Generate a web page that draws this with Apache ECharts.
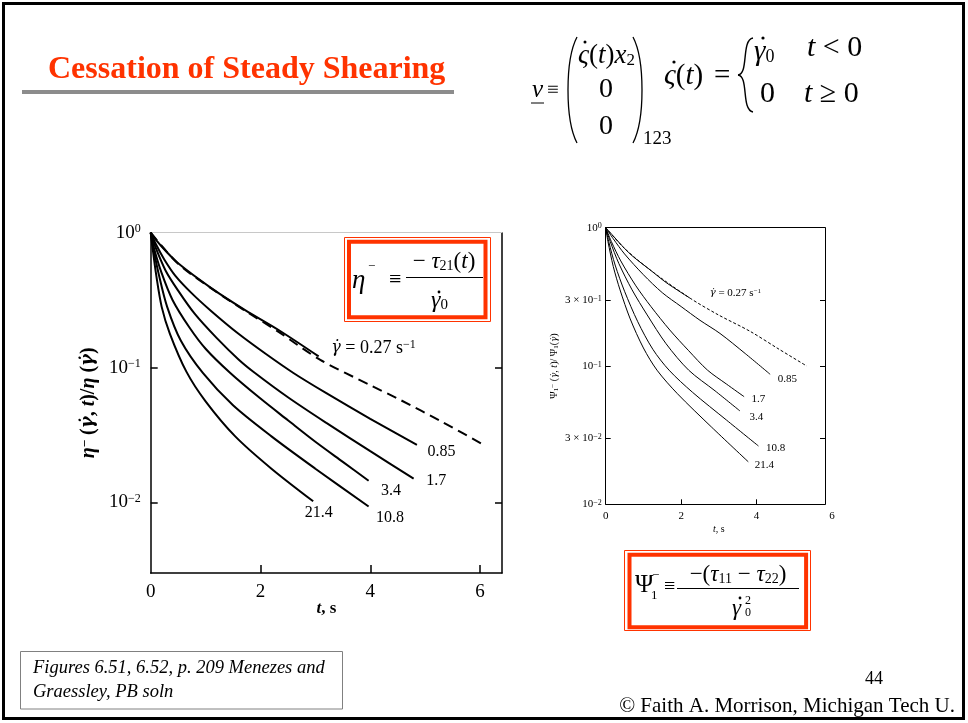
<!DOCTYPE html>
<html><head><meta charset="utf-8">
<script src="https://cdn.jsdelivr.net/npm/echarts@6/dist/echarts.min.js"></script>
<style>html,body{margin:0;padding:0;background:#fff}#c{width:968px;height:723px}</style>
</head><body><div id="c"></div>
<script>
// ---------- DATA : left figure, eta^- (t) / eta ----------
const etaT_027 = [0,0.1,0.25,0.5,1.11,1.72,2.33,3.06];
const etaV_027 = [1,0.881,0.750,0.593,0.387,0.267,0.190,0.121];
const etaT_027lin = [0,0.5,1.11,1.72,2.33,3.09,4.0,4.55,5.3,6.09];
const etaV_027lin = [1,0.589,0.385,0.264,0.184,0.114,0.0741,0.0575,0.0398,0.0264];
const etaT_085 = [0,0.1,0.25,0.45,0.75,1.1,1.6,2.1,2.6,3.2,4.0,4.85];
const etaV_085 = [1,0.813,0.631,0.479,0.355,0.263,0.178,0.126,0.0912,0.0646,0.0417,0.0267];
const etaT_17 = [0,0.08,0.27,0.5,0.8,1.2,1.6,1.9,2.5,3.2,4.0,4.79];
const etaV_17 = [1,0.794,0.525,0.372,0.251,0.166,0.115,0.0912,0.0603,0.0389,0.0240,0.0150];
const etaT_34 = [0,0.05,0.2,0.4,0.7,1.0,1.45,2.0,2.5,3.0,3.5,3.97];
const etaV_34 = [1,0.794,0.501,0.316,0.200,0.138,0.0912,0.0589,0.0407,0.0282,0.0200,0.0145];
const etaT_108 = [0,0.04,0.15,0.3,0.55,0.95,1.5,2.2,3.0,3.97];
const etaV_108 = [1,0.794,0.486,0.282,0.158,0.0912,0.0525,0.0309,0.0178,0.00933];
const etaT_214 = [0,0.03,0.1,0.2,0.35,0.65,1.0,1.54,2.2,2.96];
const etaV_214 = [1,0.794,0.486,0.282,0.178,0.0933,0.0562,0.0309,0.0178,0.0102];

// ---------- DATA : right figure, Psi1^- (t) / Psi1 ----------
const psiT_027 = [0,0.2,0.5,0.73,1.2,1.62,2.24];
const psiV_027 = [1,0.871,0.708,0.617,0.490,0.398,0.309];
const psiT_027lin = [0,0.5,1.2,2.24,2.99,3.83,4.6,5.33];
const psiV_027lin = [1,0.708,0.490,0.309,0.234,0.178,0.132,0.100];
const psiT_085 = [0,0.2,0.5,1.0,1.5,2.0,2.5,3.03,3.7,4.36];
const psiV_085 = [1,0.832,0.646,0.457,0.339,0.269,0.214,0.172,0.123,0.0871];
const psiT_17 = [0,0.15,0.4,0.8,1.2,1.7,2.2,2.7,3.2,3.67];
const psiV_17 = [1,0.794,0.575,0.380,0.269,0.182,0.129,0.0933,0.0741,0.0600];
const psiT_34 = [0,0.12,0.35,0.7,1.1,1.6,2.2,2.9,3.56];
const psiV_34 = [1,0.794,0.550,0.355,0.234,0.145,0.0933,0.0661,0.0473];
const psiT_108 = [0,0.08,0.25,0.5,0.85,1.25,1.68,2.3,3.2,4.05];
const psiV_108 = [1,0.794,0.537,0.347,0.209,0.132,0.0933,0.0646,0.0407,0.0264];
const psiT_214 = [0,0.06,0.2,0.38,0.65,1.0,1.36,1.9,2.8,3.78];
const psiV_214 = [1,0.794,0.525,0.355,0.219,0.135,0.0933,0.0631,0.0363,0.0203];

// ---------- labels / ticks ----------
const rateLow = '{g|γ\u0307} = 0.27 s{s|−1}';
const rateLabels = ['0.85','1.7','3.4','10.8','21.4'];
const etaXTicks = [0,2,4,6];
const etaYTicks = [1,0.1,0.01];
const etaYTickText = ['10^0','10^−1','10^−2'];
const psiXTicks = [0,2,4,6];
const psiYTicks = [1,0.3,0.1,0.03,0.01];
const psiYTickText = ['10^0','3 × 10^−1','10^−1','3 × 10^−2','10^−2'];

const SERIF = "'Liberation Serif','Times New Roman',serif";
const DJ = "'DejaVu Serif','Liberation Serif',serif";

function zip(ts, vs){ return ts.map((t,i)=>[t, vs[i]]); }
function curve(gi, ts, vs, width, dash){
  return {type:'line', xAxisIndex:gi*2, yAxisIndex:gi*2, data:zip(ts,vs), symbol:'none',
    smooth:0.3, silent:true, z:3,
    lineStyle:{color:'#000', width:width, type: dash || 'solid'}};
}
function tag(gi, ts, vs, text, off, fs){
  const n = ts.length-1;
  const ss = Math.round(fs*0.65), k = Math.round(fs*0.55);
  return {type:'scatter', xAxisIndex:gi*2, yAxisIndex:gi*2, data:[[ts[n], vs[n]]], symbolSize:1,
    itemStyle:{color:'rgba(0,0,0,0)'}, silent:true, z:4,
    label:{show:true, formatter:text, position:off, align:'left', verticalAlign:'middle',
      fontFamily:SERIF, fontSize:fs, lineHeight:fs, color:'#000', textBorderWidth:0, opacity:1,
      rich:{g:{fontStyle:'italic', fontFamily:DJ, fontSize:Math.round(fs*0.9), lineHeight:fs, color:'#000'},
            s:{fontFamily:SERIF, fontSize:ss, lineHeight:ss, padding:[0,0,k,0], verticalAlign:'top', color:'#000'}}}};
}
function tickFmt(ticks, texts){
  return function(v){
    const i = ticks.findIndex(t=>Math.abs(Math.log10(t)-Math.log10(v))<1e-6);
    if(i<0) return '';
    const p = texts[i].split('^');
    return '{b|'+p[0]+'}{s|'+p[1]+'}';
  };
}
function logRich(fb, fs, k){
  return {b:{fontFamily:SERIF, fontSize:fb, color:'#000', lineHeight:fb},
          s:{fontFamily:SERIF, fontSize:fs, color:'#000', verticalAlign:'top', lineHeight:fs, padding:[0,0,k,0]}};
}

const series = [
  curve(0, etaT_027, etaV_027, 2),
  curve(0, etaT_027lin, etaV_027lin, 2, [10,6]),
  curve(0, etaT_085, etaV_085, 2),
  curve(0, etaT_17, etaV_17, 2),
  curve(0, etaT_34, etaV_34, 2),
  curve(0, etaT_108, etaV_108, 2),
  curve(0, etaT_214, etaV_214, 2),
  tag(0, etaT_027, etaV_027, rateLow, [13,-8], 18),
  tag(0, etaT_085, etaV_085, rateLabels[0], [11,7], 16),
  tag(0, etaT_17, etaV_17, rateLabels[1], [13,3], 16),
  tag(0, etaT_34, etaV_34, rateLabels[2], [13,11], 16),
  tag(0, etaT_108, etaV_108, rateLabels[3], [8,12], 16),
  tag(0, etaT_214, etaV_214, rateLabels[4], [-8,12], 16),

  curve(1, psiT_027, psiV_027, 1),
  curve(1, psiT_027lin, psiV_027lin, 1, [3,2]),
  curve(1, psiT_085, psiV_085, 1),
  curve(1, psiT_17, psiV_17, 1),
  curve(1, psiT_34, psiV_34, 1),
  curve(1, psiT_108, psiV_108, 1),
  curve(1, psiT_214, psiV_214, 1),
  tag(1, psiT_027, psiV_027, rateLow, [20,-5], 11),
  tag(1, psiT_085, psiV_085, rateLabels[0], [8,5], 11),
  tag(1, psiT_17, psiV_17, rateLabels[1], [8,3], 11),
  tag(1, psiT_34, psiV_34, rateLabels[2], [10,7], 11),
  tag(1, psiT_108, psiV_108, rateLabels[3], [8,3], 11),
  tag(1, psiT_214, psiV_214, rateLabels[4], [7,4], 11)
];

const BLK = {color:'#000', width:1.5};
const BLK1 = {color:'#000', width:1};
const OFF = {show:false};
function line(style){ return {onZero:false, lineStyle:style}; }

const xAxis = [
  // 0: left chart bottom
  {gridIndex:0, type:'value', min:0, max:6.4, position:'bottom',
   axisLine:line(BLK), splitLine:OFF,
   axisTick:{inside:true, length:8, customValues:[2,4,6], lineStyle:BLK},
   axisLabel:{customValues:etaXTicks, fontFamily:SERIF, fontSize:19, color:'#000', margin:10},
   name:'{i|t}, s', nameLocation:'middle', nameGap:27, nameMoveOverlap:false,
   nameTextStyle:{fontFamily:SERIF, fontSize:17, fontWeight:'bold', color:'#000',
     rich:{i:{fontFamily:SERIF, fontSize:17, fontWeight:'bold', fontStyle:'italic', color:'#000'}}}},
  // 1: left chart top frame
  {gridIndex:0, type:'value', min:0, max:6.4, position:'top',
   axisLine:line({color:'#c8c8c8', width:1}), axisTick:OFF, axisLabel:OFF, splitLine:OFF},
  // 2: right chart bottom (ticks, labels, name)
  {gridIndex:1, type:'value', min:0, max:6, position:'bottom',
   axisLine:{show:false, onZero:false}, splitLine:OFF,
   axisTick:{inside:true, length:5, customValues:[2,4], lineStyle:BLK1},
   axisLabel:{customValues:psiXTicks, fontFamily:SERIF, fontSize:11, color:'#000', margin:6},
   name:'{i|t}, s', nameLocation:'middle', nameGap:20, nameMoveOverlap:false,
   nameTextStyle:{fontFamily:SERIF, fontSize:10, color:'#000',
     rich:{i:{fontFamily:SERIF, fontSize:10, fontStyle:'italic', color:'#000'}}}},
  // 3: right chart frame bottom
  {gridIndex:2, type:'value', min:0, max:1, position:'bottom',
   axisLine:line(BLK1), axisTick:OFF, axisLabel:OFF, splitLine:OFF},
  // 4: right chart frame top
  {gridIndex:2, type:'value', min:0, max:1, position:'top',
   axisLine:line(BLK1), axisTick:OFF, axisLabel:OFF, splitLine:OFF}
];

const yAxis = [
  // 0: left chart left
  {gridIndex:0, type:'log', logBase:10, min:0.003, max:1, position:'left',
   axisLine:line(BLK), splitLine:OFF, minorTick:OFF,
   axisTick:{inside:true, length:7, customValues:[0.01,0.1], lineStyle:BLK},
   axisLabel:{customValues:etaYTicks, formatter:tickFmt(etaYTicks, etaYTickText), margin:10, color:'#000',
     rich:logRich(19,12,12)},
   name:'{i|η}{s|−} ({g|γ\u0307}, {i|t})/{i|η} ({g|γ\u0307})', nameLocation:'middle', nameRotate:90, nameGap:52,
   nameMoveOverlap:false,
   nameTextStyle:{fontFamily:SERIF, fontSize:20, fontWeight:'bold', color:'#000',
     rich:{i:{fontFamily:SERIF, fontSize:20, fontWeight:'bold', fontStyle:'italic', color:'#000'},
           g:{fontFamily:DJ, fontSize:18, fontWeight:'bold', fontStyle:'italic', color:'#000'},
           s:{fontFamily:SERIF, fontSize:13, fontWeight:'bold', verticalAlign:'top', color:'#000'}}}},
  // 1: left chart right frame
  {gridIndex:0, type:'log', logBase:10, min:0.003, max:1, position:'right',
   axisLine:line(BLK), splitLine:OFF,
   axisTick:{inside:true, length:7, customValues:[0.01,0.1], lineStyle:BLK}, axisLabel:OFF},
  // 2: right chart left
  {gridIndex:1, type:'log', logBase:10, min:0.01, max:1, position:'left',
   axisLine:line(BLK1), splitLine:OFF,
   axisTick:{inside:true, length:5, customValues:[0.03,0.1,0.3], lineStyle:BLK1},
   axisLabel:{customValues:psiYTicks, formatter:tickFmt(psiYTicks, psiYTickText), margin:4, color:'#000',
     rich:logRich(11,8,8)},
   name:'{b|Ψ}{u|1}{s|−} ({g|γ\u0307}, {i|t})/ {b|Ψ}{u|1}({g|γ\u0307})', nameLocation:'middle', nameRotate:90, nameGap:46,
   nameMoveOverlap:false,
   nameTextStyle:{fontFamily:SERIF, fontSize:10, color:'#000',
     rich:{i:{fontFamily:SERIF, fontSize:10, fontStyle:'italic', color:'#000'},
           g:{fontFamily:DJ, fontSize:9, fontStyle:'italic', color:'#000'},
           b:{fontFamily:SERIF, fontSize:10, color:'#000'},
           u:{fontFamily:SERIF, fontSize:7, verticalAlign:'bottom', color:'#000'},
           s:{fontFamily:SERIF, fontSize:7, verticalAlign:'top', color:'#000'}}}},
  // 3: right chart right frame (narrower overlay grid)
  {gridIndex:2, type:'log', logBase:10, min:0.01, max:1, position:'right',
   axisLine:line(BLK1), splitLine:OFF,
   axisTick:{inside:true, length:5, customValues:[0.03,0.1,0.3], lineStyle:BLK1}, axisLabel:OFF}
];

// ---------- slide decorations ----------
const RED = '#ff3300';
function richSet(fs){
  const s = Math.round(fs*0.62), k = Math.round(fs*0.6);
  return {i:{fontStyle:'italic', fontFamily:SERIF, fontSize:fs, lineHeight:fs, fill:'#000'},
          sub:{fontFamily:SERIF, fontSize:s, lineHeight:s, padding:[k,0,0,0], verticalAlign:'bottom', fill:'#000'},
          sup:{fontFamily:SERIF, fontSize:s, lineHeight:s, padding:[0,0,k,0], verticalAlign:'top', fill:'#000'}};
}
function T(x, y, text, fs, o){
  o = o || {};
  return {type:'text', x:x, y:y, z:101, silent:true,
    style:{text:text, fontFamily:SERIF, fontSize:fs, lineHeight:fs, fontWeight:o.bold?'bold':'normal',
      fontStyle:o.italic?'italic':'normal', fill:o.fill||'#000',
      align:o.align||'left', verticalAlign:'middle', textAlign:o.align||'left', textVerticalAlign:'middle',
      rich:richSet(fs)}};
}
function L(x1,y1,x2,y2,w){ return {type:'line', z:101, silent:true, shape:{x1,y1,x2,y2}, style:{stroke:'#000', lineWidth:w||1}}; }
function DOT(x,y,r){ return {type:'circle', z:102, silent:true, shape:{cx:x,cy:y,r:r||1.4}, style:{fill:'#000'}}; }
function BZ(x1,y1,c1x,c1y,c2x,c2y,x2,y2,w){
  return {type:'bezierCurve', z:101, silent:true, shape:{x1,y1,cpx1:c1x,cpy1:c1y,cpx2:c2x,cpy2:c2y,x2,y2},
          style:{stroke:'#000', lineWidth:w||1.3, fill:'none'}};
}
function BOX(x,y,w,h,lw,fill,stroke,z){
  return {type:'rect', z:z||100, silent:true, shape:{x,y,width:w,height:h},
          style:{fill:fill||'none', stroke:stroke, lineWidth:lw}};
}

const graphic = [
  BOX(3.5,3.5,960,715,3,'none','#000'),
  // title
  T(48, 70, 'Cessation of Steady Shearing', 32, {bold:true, fill:RED}),
  {type:'rect', z:100, silent:true, shape:{x:22,y:90,width:432,height:4}, style:{fill:'#8c8c8c'}},
  // velocity equation
  T(532, 90, '{i|v}', 25),
  L(531,103,544,103,1),
  T(547, 90, '≡', 21),
  BZ(577,37,565,60,565,120,577,143,1.3),
  BZ(633,37,645,60,645,120,633,143,1.3),
  T(578, 56, '{i|ς}({i|t}){i|x}{sub|2}', 27),
  DOT(585,42,1.5),
  T(606, 90, '0', 28, {align:'center'}),
  T(606, 127, '0', 28, {align:'center'}),
  T(643, 139, '123', 19),
  T(664, 76, '{i|ς}({i|t})', 29),
  DOT(674,62,1.6),
  T(714, 76, '=', 29),
  BZ(753,38,741,40,749,74,738,75,1.4),
  BZ(738,75,749,76,741,110,753,112,1.4),
  T(754, 52, '{i|γ}{sub|0}', 29),
  DOT(763,38,1.6),
  T(807, 48, '{i|t} < 0', 30),
  T(760, 94, '0', 30),
  T(804, 94, '{i|t} ≥ 0', 30),
  // eta box
  BOX(344.5,237.5,146,84,1,'#fff',RED,99),
  BOX(349,241.7,136.5,75.5,4,'none',RED),
  T(352, 281, '{i|η}', 27),
  T(368, 267, '−', 13),
  T(389, 280, '≡', 22),
  L(406,277.5,483,277.5,1),
  T(444, 262, '− {i|τ}{sub|21}({i|t})', 23, {align:'center'}),
  T(431, 301, '{i|γ}{sub|0}', 24),
  DOT(439,292,1.4),
  // psi box
  BOX(624.5,550.5,186,80,1,'#fff',RED,99),
  BOX(629.5,554.7,176.6,72.6,4,'none',RED),
  T(635, 585, 'Ψ', 25),
  T(651, 596, '1', 13),
  T(652, 576, '−', 13),
  T(664, 587, '≡', 20),
  L(677,588.5,799,588.5,1),
  T(738, 575, '−({i|τ}{sub|11} − {i|τ}{sub|22})', 23, {align:'center'}),
  T(732, 609, '{i|γ}', 23),
  DOT(740,598,1.4),
  T(745, 601, '2', 12),
  T(745, 613, '0', 12),
  // caption
  BOX(20.5,651.5,322,57.5,1,'#fff','#808080'),
  T(33, 668, 'Figures 6.51, 6.52, p. 209 Menezes and', 18.5, {italic:true}),
  T(33, 692, 'Graessley, PB soln', 18.5, {italic:true}),
  T(874, 679, '44', 18, {align:'center'}),
  T(955, 706, '© Faith A. Morrison, Michigan Tech U.', 21, {align:'right'})
];

const chart = echarts.init(document.getElementById('c'), null, {renderer:'canvas'});
chart.setOption({
  animation:false,
  backgroundColor:'#fff',
  grid:[
    {left:150.7, top:232.7, width:351.3, height:340.3, outerBoundsMode:'none'},
    {left:605.7, top:227.7, width:226.3, height:276.6, outerBoundsMode:'none'},
    {left:605.7, top:227.7, width:219.3, height:276.6, outerBoundsMode:'none'}
  ],
  xAxis:xAxis, yAxis:yAxis, series:series, graphic:graphic
});
</script>
</body></html>
